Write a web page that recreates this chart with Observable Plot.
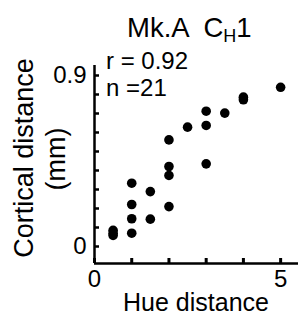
<!DOCTYPE html>
<html><head><meta charset="utf-8">
<script src="https://cdn.jsdelivr.net/npm/d3@7"></script>
<script src="https://cdn.jsdelivr.net/npm/@observablehq/plot@0.6"></script>
<style>body{margin:0;background:#fff} svg{font-family:"Liberation Sans",Arial,sans-serif}</style>
</head><body><div id="chart"></div>
<script>
const hueDistance = [0.5,0.5,0.5, 1,1,1,1, 1.5,1.5, 2,2,2,2, 2.5, 3,3,3, 3.5, 4,4, 5];
const corticalDistance = [0.085,0.07,0.058, 0.07,0.146,0.221,0.333, 0.289,0.144, 0.21,0.374,0.421,0.561, 0.628, 0.637,0.712,0.435, 0.702, 0.786,0.772, 0.838];
const xTickLabels = [0, 5];
const yTickLabels = [0, 0.9];
const xTicks = [0, 1, 2, 3, 4, 5];
const yTicks = [0, 0.1, 0.2, 0.3, 0.4, 0.5, 0.6, 0.7, 0.8, 0.9];
const titleMain = "Mk.A  C", titleSub = "H", titleEnd = "1";
const statR = "r = 0.92", statN = "n =21";
const xLabel = "Hue distance", yLabel1 = "Cortical distance", yLabel2 = "(mm)";

const data = hueDistance.map((h, i) => ({hue: h, cort: corticalDistance[i]}));

const W = 299, H = 317, mL = 94, mR = 1, mT = 65, mB = 54;
const fw = W - mL - mR, fh = H - mT - mB;
const yMin = -0.0895, yMax = 0.9526;
const font = '"Liberation Sans",Arial,sans-serif';

const chart = Plot.plot({
  width: W, height: H,
  marginLeft: mL, marginRight: mR, marginTop: mT, marginBottom: mB,
  x: {domain: [0, 5.48]},
  y: {domain: [yMin, yMax]},
  style: {fontFamily: font, background: "#fff"},
  marks: [
    Plot.axisX(xTickLabels, {tickSize: 0, tickPadding: 6, fontSize: 24, label: null, tickFormat: d => String(d)}),
    Plot.axisY(yTickLabels, {tickSize: 0, tickPadding: 8, fontSize: 24, label: null, tickFormat: d => String(d)}),
    Plot.tickY(yTicks, {y: d => d, stroke: "#000", strokeWidth: 2.5, insetRight: fw - 5}),
    Plot.tickX(xTicks, {x: d => d, stroke: "#000", strokeWidth: 3, insetTop: fh - 5}),
    Plot.ruleX([0], {stroke: "#000", strokeWidth: 2.5}),
    Plot.ruleY([yMin], {stroke: "#000", strokeWidth: 2.5}),
    Plot.dot(data, {x: "hue", y: "cort", r: 4.8, fill: "#000", stroke: "none"})
  ]
});
document.getElementById("chart").append(chart);

const svg = d3.select(chart);
function txt(x, y, size, anchor, s, rot) {
  const el = svg.append("text")
    .attr("transform", rot ? `translate(${x},${y}) rotate(-90)` : `translate(${x},${y})`)
    .attr("font-size", size).attr("text-anchor", anchor)
    .attr("font-family", font).attr("fill", "#000")
    .style("font-size", size + "px").style("white-space", "pre");
  if (s != null) el.text(s);
  return el;
}
const t = txt(127, 36.5, 27.5, "start", null);
t.append("tspan").text(titleMain);
t.append("tspan").attr("font-size", 18).style("font-size", "18px").attr("dy", 5).text(titleSub);
t.append("tspan").attr("dy", -5).text(titleEnd);

txt(106, 69, 24, "start", statR);
txt(106, 96, 24, "start", statN);
txt(196, 311, 25, "middle", xLabel);
txt(33, 158, 27, "middle", yLabel1, true);
txt(65, 159, 27, "middle", yLabel2, true);
</script></body></html>
